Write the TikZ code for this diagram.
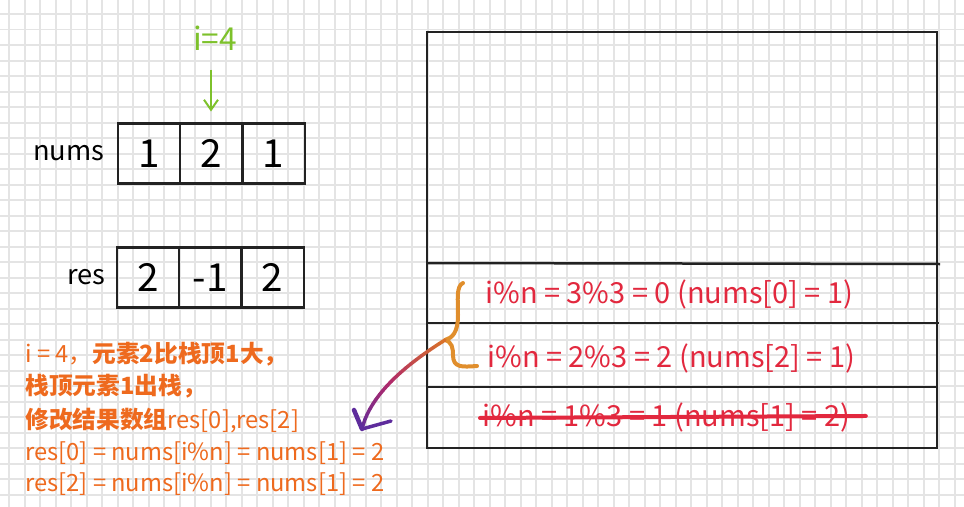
\documentclass[tikz,border=0pt]{standalone}
\usepackage{fontspec}
\setmainfont{Noto Sans CJK SC}
\usetikzlibrary{positioning}
\usetikzlibrary{arrows.meta}

\definecolor{gridgray}{HTML}{E4E4E4}
\definecolor{inkblack}{HTML}{222222}
\definecolor{pointgreen}{HTML}{7DC12B}
\definecolor{stackred}{HTML}{E2283E}
\definecolor{noteorange}{HTML}{EE6A1E}
\definecolor{braceorange}{HTML}{E08E2C}
\definecolor{arcorange}{HTML}{D8702A}
\definecolor{arcmagenta}{HTML}{B02A6A}
\definecolor{arcpurple}{HTML}{5E2C9C}

\tikzset{
  gridline/.style={gridgray, line width=0.04cm},
  cell/.style={draw=inkblack, line width=0.045cm, minimum width=1.247cm, minimum height=1.2cm,
               inner sep=0pt, outer sep=0pt, font=\fontsize{22}{22}\selectfont},
  arrlabel/.style={inner sep=0pt, font=\fontsize{15.5}{15.5}\selectfont},
  pointer/.style={pointgreen, line width=0.04cm, -{Straight Barb[length=0.2cm,width=0.28cm]}},
  stackline/.style={inkblack, line width=0.05cm},
  stacktext/.style={anchor=base west, text=stackred, inner sep=0pt, font=\fontsize{16.5}{16.5}\selectfont},
  strike/.style={stackred, line width=0.08cm, line cap=round},
  notetext/.style={anchor=base west, text=noteorange, inner sep=0pt, font=\fontsize{13.5}{13.5}\selectfont},
  bracestroke/.style={braceorange, line width=0.08cm, line cap=round, line join=round},
  arcstroke/.style={line width=0.07cm, line cap=round},
}

\begin{document}
\begin{tikzpicture}[x=0.02cm,y=-0.02cm]
  \useasboundingbox (0,0) rectangle (964,507);

  % squared paper
  \foreach \k in {0,...,61}
    \draw[gridline] (9.3+15.5*\k,0) -- (9.3+15.5*\k,507);
  \foreach \k in {0,...,31}
    \draw[gridline] (0,14+15.5*\k) -- (964,14+15.5*\k);

  % arrays
  \node (n1) [cell] at (149,153.5) {1};
  \node (n2) [cell,right=0pt of n1] {2};
  \node (n3) [cell,right=0pt of n2] {1};
  \node (numslabel) [arrlabel,left=0.26cm of n1] {nums};

  \node (r1) [cell] at (148,277.5) {2};
  \node (r2) [cell,right=0pt of r1] {-1};
  \node (r3) [cell,right=0pt of r2] {2};
  \node (reslabel) [arrlabel,left=0.22cm of r1] {res};

  % index pointer
  \node (ival) [inner sep=0pt,text=pointgreen,font=\fontsize{18}{18}\selectfont] at (215,38) {i=4};
  \draw[pointer,shorten <=0.38cm,shorten >=0.24cm] ([xshift=-0.08cm]ival.south) -- ([xshift=-0.08cm]ival.south |- n2.north);

  % stack
  \draw[stackline] (427,32) rectangle (937,448);
  \draw[stackline] (427,263) -- (940,264);
  \draw[stackline] (427,323) -- (939,323);
  \draw[stackline] (427,387) -- (937,387);

  \node (slot1) [stacktext] at (485,303) {i\%n = 3\%3 = 0 (nums[0] = 1)};
  \node (slot2) [stacktext] at (487,367) {i\%n = 2\%3 = 2 (nums[2] = 1)};
  \node (slot3) [stacktext] at (482,426) {i\%n = 1\%3 = 1 (nums[1] = 2)};
  \draw[strike] ([xshift=-0.04cm,yshift=-0.02cm]slot3.west) -- ([xshift=0.3cm,yshift=0.02cm]slot3.east);

  % brace over the two popped slots
  \coordinate (bracetip) at (445,340);
  \draw[bracestroke] (463,283) .. controls (456,286) and (458,300) .. (458,315)
                     .. controls (458,333) and (452,338) .. (bracetip)
                     .. controls (452,342) and (453,348) .. (453,355)
                     .. controls (453,368) and (462,367) .. (477,366);

  % coloured arc down to the note
  \coordinate (arrowtip) at (362,429);
  \path (bracetip) .. controls (405,365) and (370,395) .. (arrowtip)
    foreach \k in {0,...,20} {coordinate[pos=\k/20] (arc\k)};
  \foreach \k [evaluate=\k as \next using int(\k+1), evaluate=\k as \mix using int(100-10*\k)] in {0,...,9}
    \draw[arcstroke,arcorange!\mix!arcmagenta] (arc\k) -- (arc\next);
  \foreach \k [evaluate=\k as \next using int(\k+1), evaluate=\k as \mix using int(200-10*\k)] in {10,...,19}
    \draw[arcstroke,arcmagenta!\mix!arcpurple] (arc\k) -- (arc\next);
  \draw[arcstroke,arcpurple,line width=0.09cm] (arrowtip) -- ++(-8,-19);
  \draw[arcstroke,arcpurple] (arrowtip) -- ++(29,-8);

  % notes
  \node (note1) [notetext] at (25,362) {i = 4，{\bfseries 元素2比栈顶1大，}};
  \node (note2) [notetext] at (25,394) {\bfseries 栈顶元素1出栈，};
  \node (note3) [notetext] at (25,428) {{\bfseries 修改结果数组}res[0],res[2]};
  \node (note4) [notetext] at (25,460) {res[0] = nums[i\%n] = nums[1] = 2};
  \node (note5) [notetext] at (25,491) {res[2] = nums[i\%n] = nums[1] = 2};
\end{tikzpicture}
\end{document}
